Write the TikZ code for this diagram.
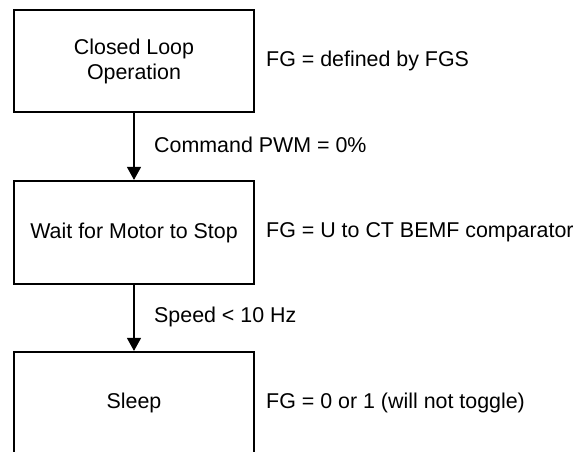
\documentclass[tikz,border=0pt]{standalone}
\usepackage{fontspec}
\setmainfont{Liberation Sans}
\usetikzlibrary{arrows.meta}
\begin{document}
\begin{tikzpicture}[x=1pt,y=-1pt,
  statebox/.style={draw=black, line width=2.2pt, minimum width=240pt, minimum height=102pt, inner sep=0pt, align=center, font=\fontsize{21.4}{25}\selectfont},
  lbl/.style={anchor=west, inner sep=0pt, font=\fontsize{21.4}{25}\selectfont},
  arr/.style={draw=black, line width=1.2pt, -{Triangle[width=14pt,length=13pt]}}]
\useasboundingbox (0,0) rectangle (577,451);
\node[statebox] (b1) at (134,61) {Closed Loop\\Operation};
\node[statebox, minimum height=103pt] (b2) at (134,232.5) {Wait for Motor to Stop};
\node[statebox] (b3) at (134,403) {Sleep};
\node[lbl] (f1) at (266,61) {FG = defined by FGS};
\node[lbl] (f2) at (266,232.5) {FG = U to CT BEMF comparator};
\node[lbl] (f3) at (266,403) {FG = 0 or 1 (will not toggle)};
\node[lbl] (c1) at (154,145) {Command PWM = 0\%};
\node[lbl] (c2) at (154,317) {Speed < 10 Hz};
\draw[arr] (b1.south) -- (b2.north);
\draw[arr] (b2.south) -- (b3.north);
\end{tikzpicture}
\end{document}
